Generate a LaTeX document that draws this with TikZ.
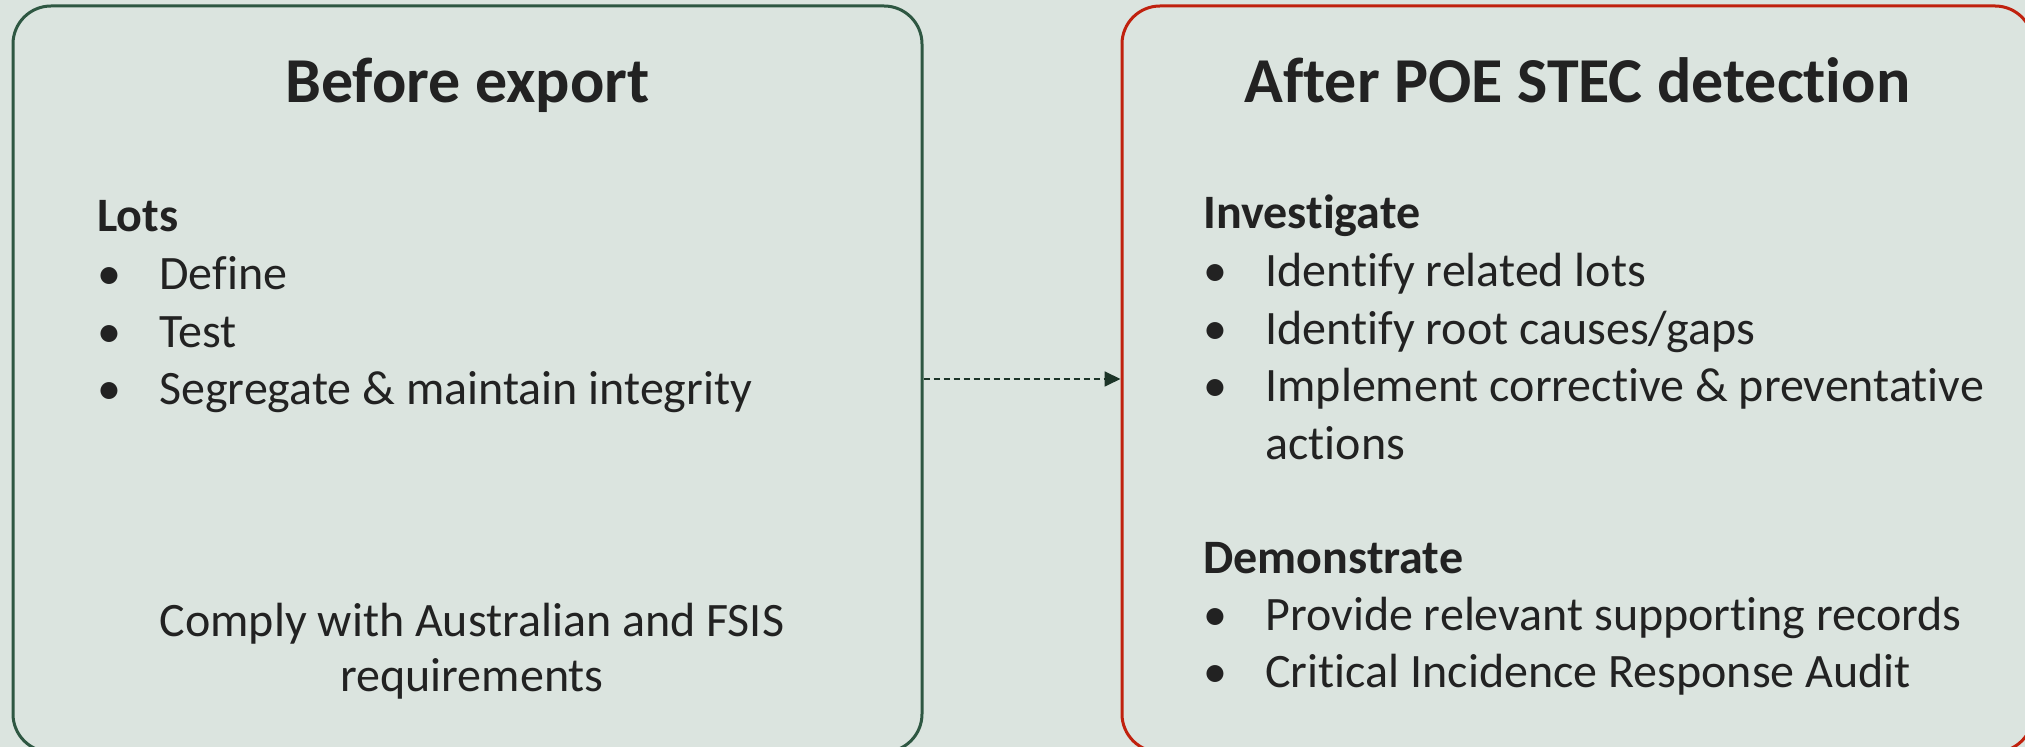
\documentclass[tikz,border=0pt]{standalone}
\usepackage{fontspec}
\setmainfont{Carlito}[Ligatures=NoCommon]
\usepackage{tikz}
\usetikzlibrary{arrows.meta}
\usetikzlibrary{positioning}
\definecolor{panel}{HTML}{DBE4DF}
\definecolor{darkgreen}{HTML}{2E5742}
\definecolor{alertred}{HTML}{C0210E}
\definecolor{ink}{HTML}{222222}
\newcommand{\bul}{\makebox[31pt][l]{\textbullet}}
\newcommand{\nobul}{\makebox[31pt][l]{}}

\begin{document}
\begin{tikzpicture}[x=0.5pt,y=-0.5pt,
		box/.style={draw,line width=1.5pt,rounded corners=19pt,minimum width=#1,minimum height=373pt,inner sep=0pt},
		title/.style={anchor=base,inner sep=0pt,text=ink,font=\fontsize{32}{38}\selectfont\bfseries},
		head/.style={anchor=base west,inner sep=0pt,text=ink,font=\fontsize{24}{29}\selectfont\bfseries},
		item/.style={anchor=base west,inner sep=0pt,text=ink,font=\fontsize{24}{29}\selectfont},
		plain/.style={anchor=base,inner sep=0pt,text=ink,font=\fontsize{24}{29}\selectfont}]
	\fill[panel] (0,0) rectangle (2025,747);
	\useasboundingbox (0,0) rectangle (2025,747);
	% the two panels
	\node[box=454.5pt,darkgreen] (before) at (467.5,379) {};
	\node[box=455.5pt,alertred] (after) at (1577.5,379) {};
	\draw[darkgreen!60!black,line width=0.9pt,dash pattern=on 3pt off 2pt,-{Triangle[length=8pt,width=7.5pt]}]
		(before.east) -- (after.west);
%
	\node[title] (t1) at (467.5,103) {Before export};
	\node[head] (lots) at (97,232) {Lots};
	\node[item] (l1) at (97,290) {\bul Define};
	\node[item] (l2) at (97,347.5) {\bul Test};
	\node[item] (l3) at (97,405) {\bul Segregate \& maintain integrity};
	\node[plain] (c1) at (472,637) {Comply with Australian and FSIS};
	\node[plain] (c2) at (472,692) {requirements};
%
	\node[title] (t2) at (1577.5,103) {After POE STEC detection};
	\node[head] (inv) at (1203,229) {Investigate};
	\node[item] (i1) at (1203,287) {\bul Identify related lots};
	\node[item] (i2) at (1203,344.5) {\bul Identify root causes/gaps};
	\node[item] (i3) at (1203,402) {\bul Implement corrective \& preventative};
	\node[item] (i4) at (1203,459.5) {\nobul actions};
	\node[head] (dem) at (1203,574) {Demonstrate};
	\node[item] (d1) at (1203,631) {\bul Provide relevant supporting records};
	\node[item] (d2) at (1203,688) {\bul Critical Incidence Response Audit};
\end{tikzpicture}
\end{document}
